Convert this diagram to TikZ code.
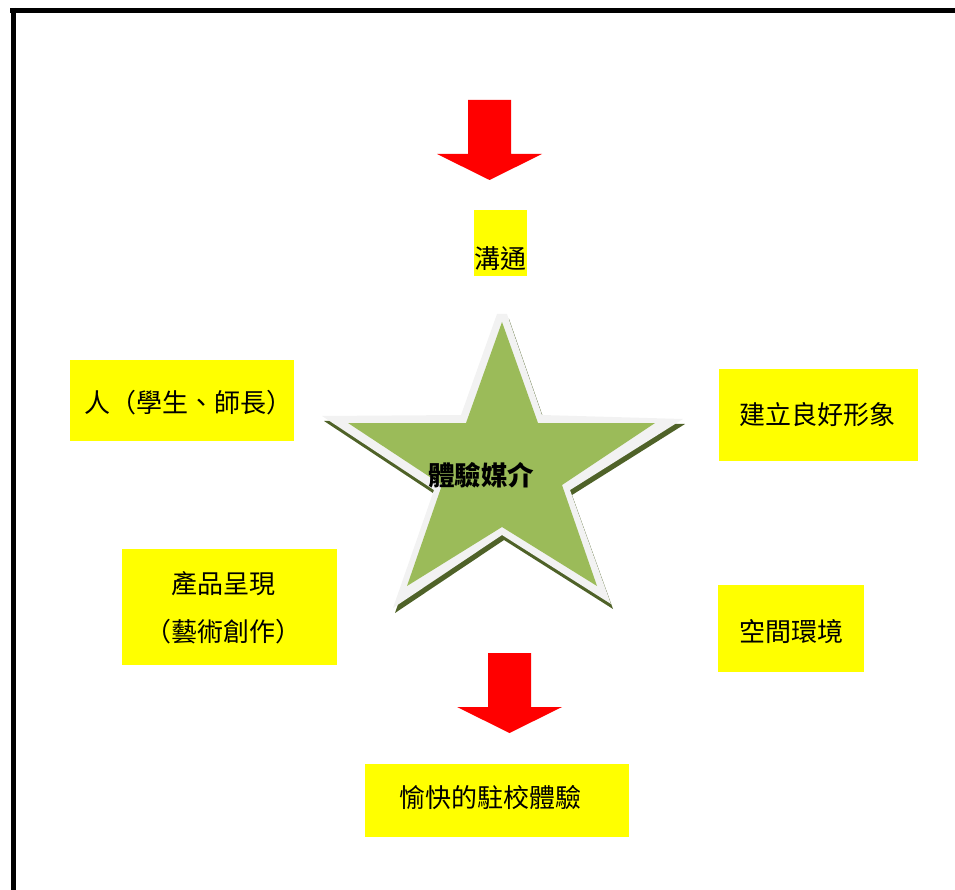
\documentclass[tikz,border=0pt]{standalone}
\usepackage{fontspec}
\newfontfamily\cjk{Noto Sans CJK TC}
\definecolor{starGreen}{HTML}{9BBB59}
\definecolor{starLight}{HTML}{F2F2F2}
\definecolor{starShadow}{HTML}{4F6228}
\definecolor{boxYellow}{HTML}{FFFF00}
\definecolor{arrowRed}{HTML}{FF0000}
\tikzset{
  ybox/.style={rectangle, fill=boxYellow, draw=none, inner sep=0pt},
  txt/.style={font=\cjk\fontsize{26}{48}\selectfont, inner sep=0pt, align=center},
  bigarrow/.style={fill=arrowRed, draw=none},
  frameline/.style={line width=5pt, draw=black}
}
\begin{document}
\begin{tikzpicture}[x=1pt, y=-1pt]
\useasboundingbox (0,0) rectangle (955,890);
% frame
\draw[frameline] (10,10.5) -- (955,10.5);
\draw[frameline] (13.5,8) -- (13.5,890);
% arrows
\fill[bigarrow] (468,100) -- (511,100) -- (511,154) -- (542,154) -- (489.5,180) -- (437,154) -- (468,154) -- cycle;
\fill[bigarrow] (488,653) -- (531,653) -- (531,707) -- (562,707) -- (509.5,733) -- (457,707) -- (488,707) -- cycle;
% star: shadow, light outline, green body
\begin{scope}[shift={(2,5)}]
\fill[starShadow] (497,314) -- (507,314) -- (542,415) -- (683,419) -- (570,490) -- (611,604) -- (502,535) -- (393,608) -- (434,490) -- (322,416) -- (461,415) -- cycle;
\end{scope}
\fill[starLight] (497,314) -- (507,314) -- (542,415) -- (683,419) -- (570,490) -- (611,604) -- (502,535) -- (393,608) -- (434,490) -- (322,416) -- (461,415) -- cycle;
\fill[starGreen] (502,322) -- (538,423) -- (655,423) -- (562,485) -- (597,586) -- (502,527) -- (407,586) -- (442,485) -- (348,423) -- (466,423) -- cycle;
\node[txt, font=\cjk\bfseries\fontsize{26.5}{30}\selectfont] (star) at (481,475.5) {體驗媒介};
% boxes
\node[ybox, minimum width=53pt, minimum height=66pt] (b1) at (500.5,243) {};
\node[txt] (t1) at (500.5,259) {溝通};
\node[ybox, minimum width=224pt, minimum height=81pt] (b2) at (182,400.5) {};
\node[txt] (t2) at (188,403) {人（學生、師長）};
\node[ybox, minimum width=199pt, minimum height=92pt] (b3) at (818.5,415) {};
\node[txt] (t3) at (817.5,415) {建立良好形象};
\node[ybox, minimum width=215pt, minimum height=116pt] (b4) at (229.5,607) {};
\node[txt] (t4) at (223,607.5) {產品呈現\\（藝術創作）};
\node[ybox, minimum width=146pt, minimum height=87pt] (b5) at (791,628.5) {};
\node[txt] (t5) at (791.5,631.5) {空間環境};
\node[ybox, minimum width=264pt, minimum height=73pt] (b6) at (497,800.5) {};
\node[txt] (t6) at (490.5,797.5) {愉快的駐校體驗};
\end{tikzpicture}
\end{document}
